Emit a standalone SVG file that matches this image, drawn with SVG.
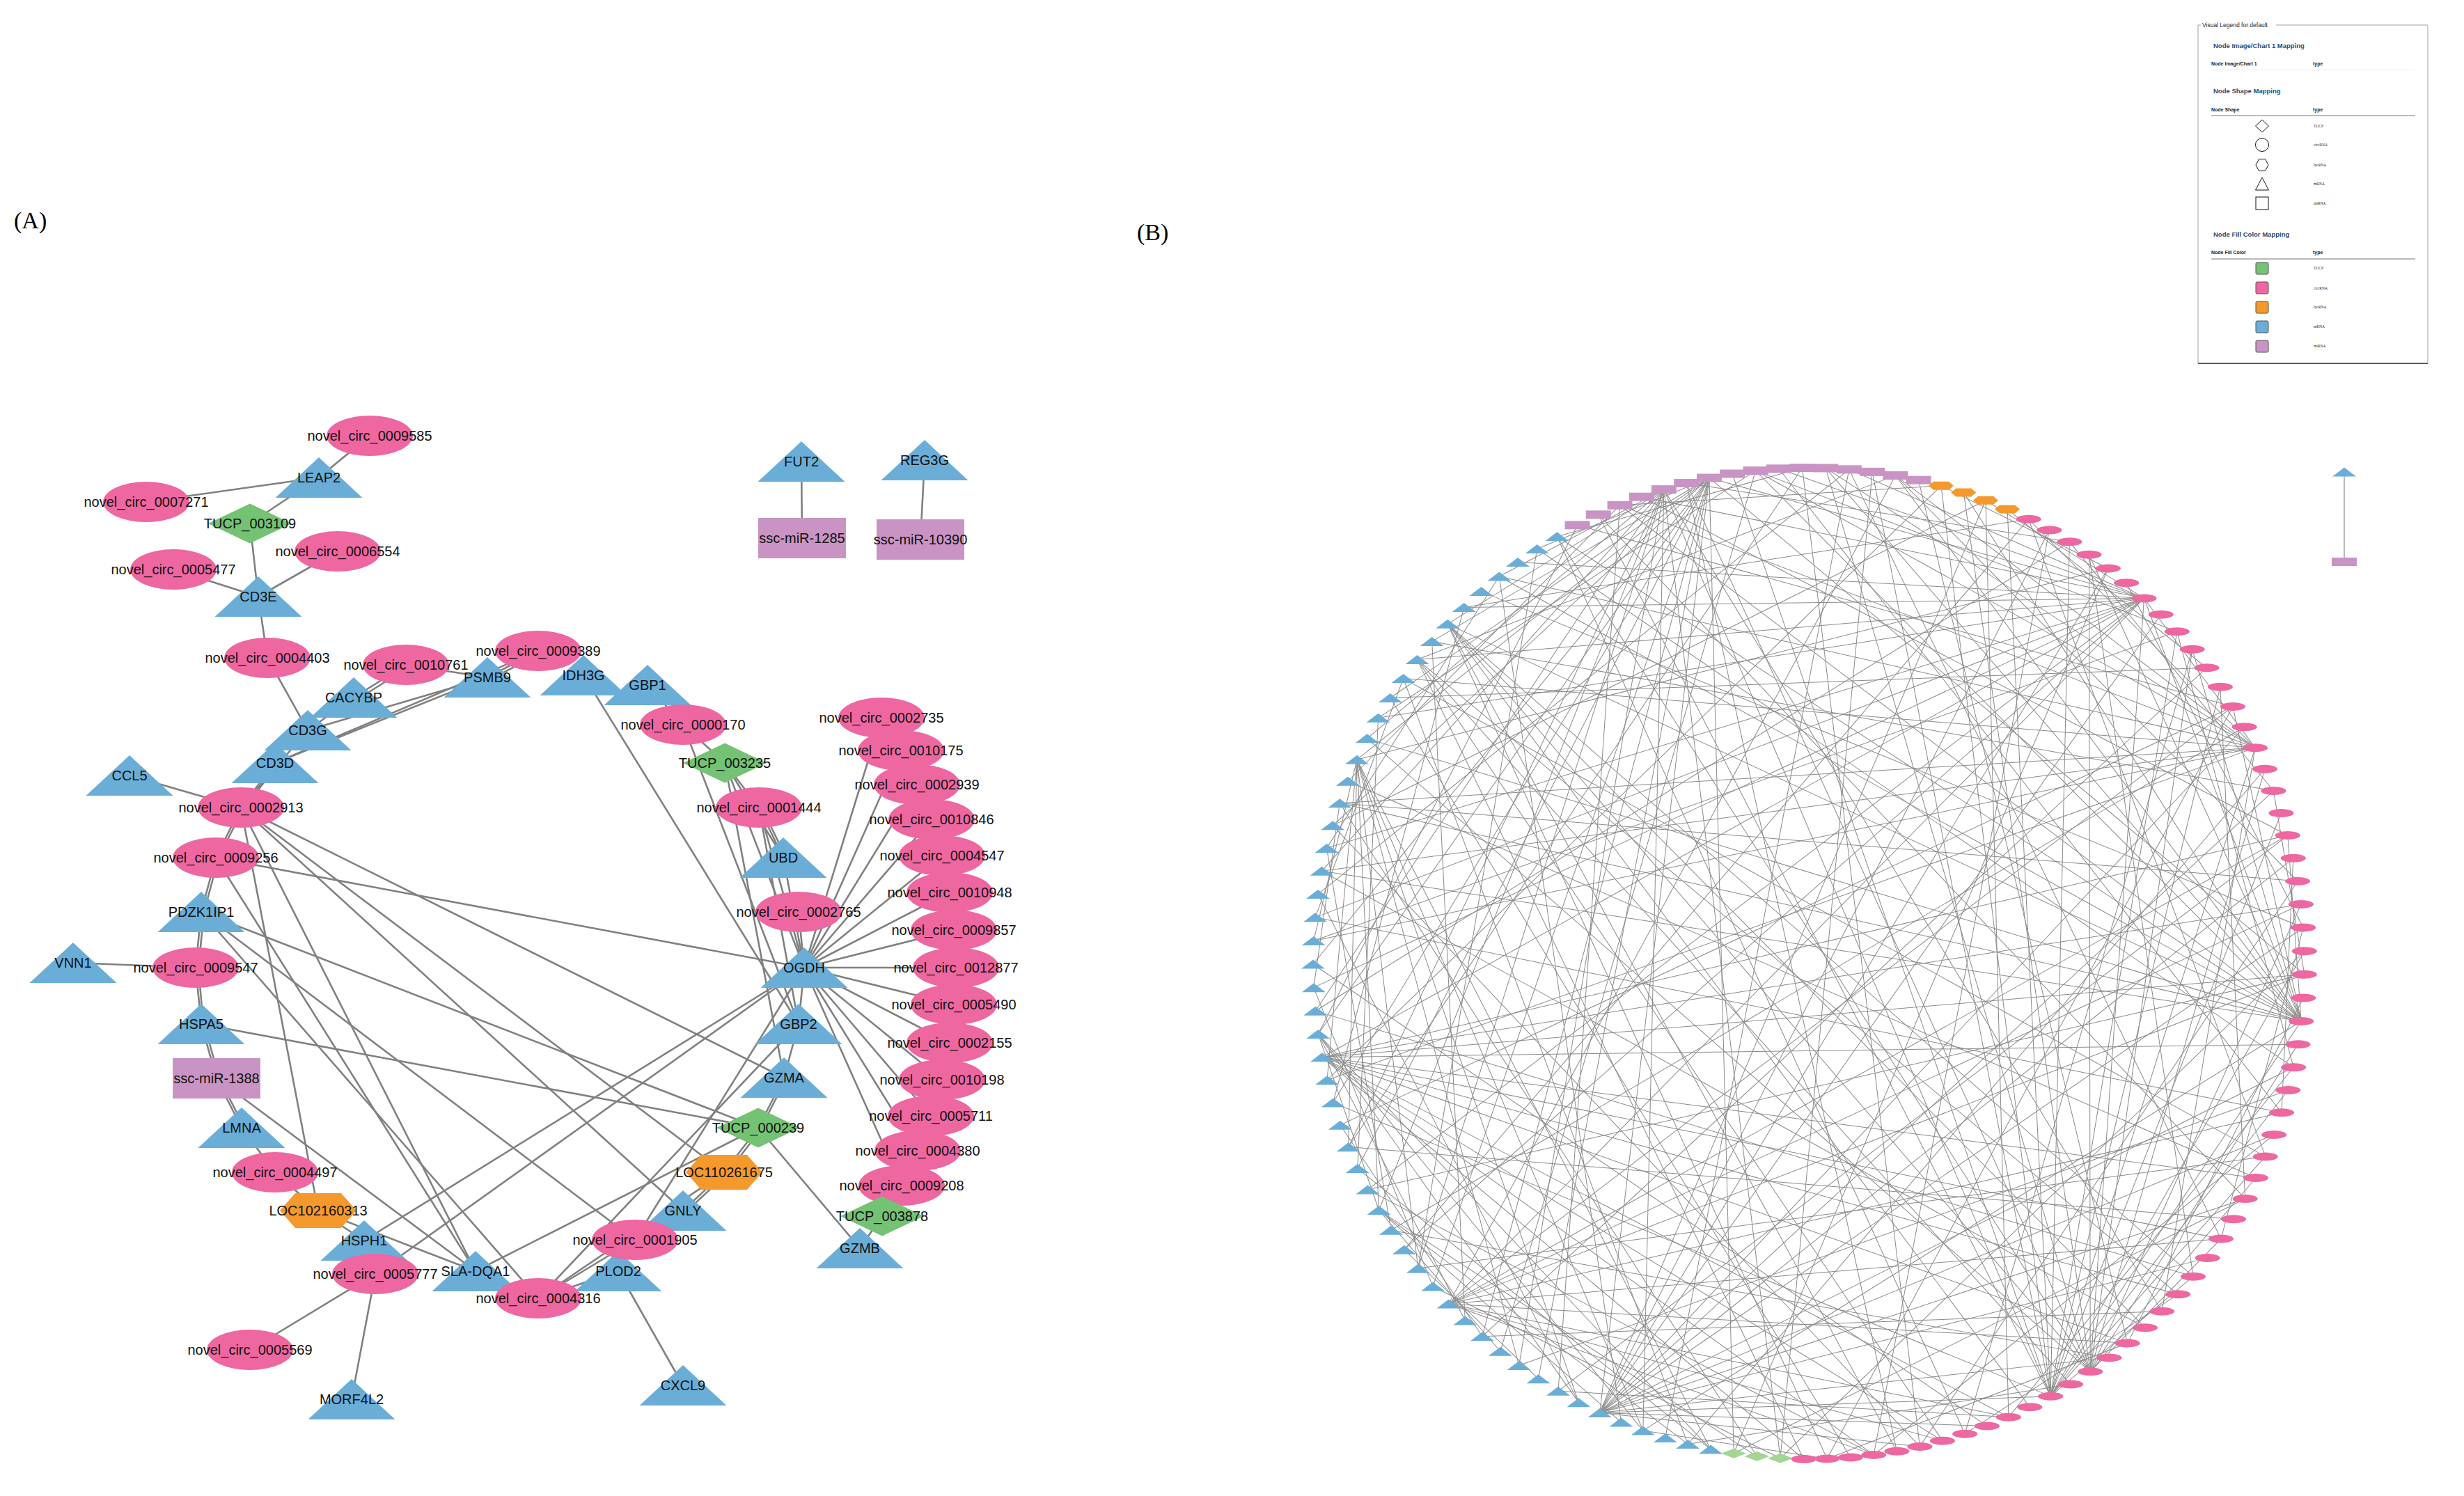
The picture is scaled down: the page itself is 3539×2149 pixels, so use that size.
<svg xmlns="http://www.w3.org/2000/svg" width="3539" height="2149" viewBox="0 0 3539 2149">
<style>
.t{font-family:"Liberation Sans",Arial,sans-serif;font-size:20px;text-anchor:middle;fill:#111}
.ea line{stroke:#808080;stroke-width:2.6}
.eb{stroke:#8a8a8a;stroke-width:1;fill:none}
.circ{fill:#EE67A0}
.mrna{fill:#6AAED8}
.tucp{fill:#74C274}
.tucpb{fill:#A3D695}
.lnc{fill:#F5992D}
.mir{fill:#C994C3}
.lg{font-family:"Liberation Sans",Arial,sans-serif}
.lh{font-family:"Liberation Sans",Arial,sans-serif;font-size:9.5px;font-weight:bold;fill:#1F4E79}
.lc{font-family:"Liberation Sans",Arial,sans-serif;font-size:7px;font-weight:bold;fill:#222}
.ls{font-family:"Liberation Serif",serif;font-size:5.5px;fill:#222}
.sh{fill:none;stroke:#111;stroke-width:1}
.sw{stroke:#555;stroke-width:1}
.pl{font-family:"Liberation Serif","Times New Roman",serif;font-size:34px;fill:#000}
</style>
<defs>
<ellipse id="E" rx="62" ry="29"/>
<polygon id="T" points="0,-29 62.5,29 -62.5,29"/>
<polygon id="D" points="0,-28.5 60,0 0,28.5 -60,0"/>
<polygon id="H" points="-55,0 -33,-25 33,-25 55,0 33,25 -33,25"/>
<rect id="R" x="-63" y="-29" width="126" height="58"/>
<polygon id="bT" points="0,-6.5 17,6.5 -17,6.5"/>
<ellipse id="bE" rx="18" ry="6"/>
<polygon id="bD" points="0,-7 18,0 0,7 -18,0"/>
<polygon id="bH" points="-18,0 -11,-6 11,-6 18,0 11,6 -11,6"/>
<rect id="bR" x="-18" y="-6" width="36" height="12"/>
<line id="c8" x1="712" y1="0" x2="661.8" y2="262.7"/>
<line id="c11" x1="712" y1="0" x2="618" y2="353.6"/>
<line id="c14" x1="712" y1="0" x2="561.9" y2="437.3"/>
<line id="c17" x1="712" y1="0" x2="494.5" y2="512.3"/>
<line id="c20" x1="712" y1="0" x2="417.1" y2="577"/>
<line id="c23" x1="712" y1="0" x2="331.5" y2="630.2"/>
<line id="c26" x1="712" y1="0" x2="239.1" y2="670.7"/>
<line id="c29" x1="712" y1="0" x2="141.9" y2="697.7"/>
<line id="c32" x1="712" y1="0" x2="42" y2="710.8"/>
<line id="c35" x1="712" y1="0" x2="-58.8" y2="709.6"/>
<line id="c38" x1="712" y1="0" x2="-158.4" y2="694.1"/>
<line id="c41" x1="712" y1="0" x2="-254.9" y2="664.8"/>
<line id="c44" x1="712" y1="0" x2="-346.3" y2="622.1"/>
<line id="c47" x1="712" y1="0" x2="-430.7" y2="567"/>
<line id="c50" x1="712" y1="0" x2="-506.5" y2="500.5"/>
<line id="c53" x1="712" y1="0" x2="-572" y2="423.9"/>
<line id="c56" x1="712" y1="0" x2="-626.2" y2="338.9"/>
<line id="c59" x1="712" y1="0" x2="-667.8" y2="247"/>
<line id="c62" x1="712" y1="0" x2="-696" y2="150.2"/>
<line id="c65" x1="712" y1="0" x2="-710.2" y2="50.4"/>
</defs>
<rect width="3539" height="2149" fill="#fff"/>
<text class="pl" x="20" y="328">(A)</text>
<text class="pl" x="1633" y="345">(B)</text>

<g id="edgesA" class="ea">
<line x1="458" y1="686" x2="531" y2="626"/>
<line x1="458" y1="686" x2="210" y2="721"/>
<line x1="458" y1="686" x2="359" y2="752"/>
<line x1="359" y1="752" x2="371" y2="857"/>
<line x1="371" y1="857" x2="249" y2="818"/>
<line x1="371" y1="857" x2="485" y2="792"/>
<line x1="371" y1="857" x2="384" y2="945"/>
<line x1="384" y1="945" x2="442" y2="1049"/>
<line x1="583" y1="955" x2="508" y2="1002"/>
<line x1="586" y1="959" x2="511" y2="1006"/>
<line x1="583" y1="955" x2="700" y2="973"/>
<line x1="700" y1="973" x2="442" y2="1049"/>
<line x1="700" y1="973" x2="395" y2="1096"/>
<line x1="773" y1="935" x2="700" y2="973"/>
<line x1="775" y1="939" x2="702" y2="977"/>
<line x1="773" y1="935" x2="395" y2="1096"/>
<line x1="508" y1="1002" x2="442" y2="1049"/>
<line x1="442" y1="1049" x2="346" y2="1160"/>
<line x1="395" y1="1096" x2="346" y2="1160"/>
<line x1="399" y1="1098" x2="350" y2="1162"/>
<line x1="186" y1="1114" x2="346" y2="1160"/>
<line x1="346" y1="1160" x2="310" y2="1232"/>
<line x1="350" y1="1160" x2="314" y2="1232"/>
<line x1="310" y1="1232" x2="289" y2="1310"/>
<line x1="314" y1="1232" x2="293" y2="1310"/>
<line x1="289" y1="1310" x2="281" y2="1390"/>
<line x1="293" y1="1310" x2="285" y2="1390"/>
<line x1="105" y1="1383" x2="281" y2="1390"/>
<line x1="281" y1="1390" x2="289" y2="1471"/>
<line x1="285" y1="1390" x2="292" y2="1471"/>
<line x1="289" y1="1471" x2="311" y2="1549"/>
<line x1="293" y1="1471" x2="315" y2="1549"/>
<line x1="311" y1="1549" x2="347" y2="1620"/>
<line x1="315" y1="1549" x2="351" y2="1620"/>
<line x1="347" y1="1620" x2="395" y2="1684"/>
<line x1="395" y1="1684" x2="457" y2="1739"/>
<line x1="457" y1="1739" x2="523" y2="1782"/>
<line x1="457" y1="1739" x2="683" y2="1826"/>
<line x1="523" y1="1782" x2="539" y2="1830"/>
<line x1="539" y1="1830" x2="359" y2="1939"/>
<line x1="539" y1="1830" x2="505" y2="2010"/>
<line x1="539" y1="1830" x2="1155" y2="1390"/>
<line x1="523" y1="1782" x2="1155" y2="1390"/>
<line x1="683" y1="1826" x2="1089" y2="1620"/>
<line x1="773" y1="1865" x2="888" y2="1826"/>
<line x1="773" y1="1865" x2="912" y2="1781"/>
<line x1="888" y1="1826" x2="981" y2="1990"/>
<line x1="888" y1="1826" x2="912" y2="1781"/>
<line x1="981" y1="1739" x2="1040" y2="1684"/>
<line x1="985" y1="1741" x2="1044" y2="1686"/>
<line x1="1040" y1="1684" x2="1089" y2="1620"/>
<line x1="1044" y1="1686" x2="1093" y2="1622"/>
<line x1="1089" y1="1620" x2="1126" y2="1548"/>
<line x1="1093" y1="1620" x2="1130" y2="1548"/>
<line x1="1089" y1="1620" x2="1235" y2="1793"/>
<line x1="1235" y1="1793" x2="1267" y2="1747"/>
<line x1="1126" y1="1548" x2="1147" y2="1471"/>
<line x1="1147" y1="1471" x2="1155" y2="1390"/>
<line x1="1155" y1="1390" x2="1147" y2="1310"/>
<line x1="1155" y1="1390" x2="1266" y2="1031"/>
<line x1="1155" y1="1390" x2="1294" y2="1078"/>
<line x1="1155" y1="1390" x2="1317" y2="1127"/>
<line x1="1155" y1="1390" x2="1338" y2="1177"/>
<line x1="1155" y1="1390" x2="1353" y2="1229"/>
<line x1="1155" y1="1390" x2="1364" y2="1282"/>
<line x1="1155" y1="1390" x2="1370" y2="1336"/>
<line x1="1155" y1="1390" x2="1373" y2="1390"/>
<line x1="1155" y1="1390" x2="1370" y2="1443"/>
<line x1="1155" y1="1390" x2="1364" y2="1498"/>
<line x1="1155" y1="1390" x2="1353" y2="1551"/>
<line x1="1155" y1="1390" x2="1337" y2="1603"/>
<line x1="1155" y1="1390" x2="1318" y2="1653"/>
<line x1="1155" y1="1390" x2="1295" y2="1703"/>
<line x1="838" y1="970" x2="1147" y2="1471"/>
<line x1="930" y1="984" x2="981" y2="1041"/>
<line x1="981" y1="1041" x2="1041" y2="1096"/>
<line x1="1041" y1="1096" x2="1090" y2="1160"/>
<line x1="1041" y1="1096" x2="1125" y2="1232"/>
<line x1="1090" y1="1160" x2="1125" y2="1232"/>
<line x1="1094" y1="1160" x2="1129" y2="1232"/>
<line x1="1125" y1="1232" x2="1155" y2="1390"/>
<line x1="981" y1="1041" x2="1147" y2="1471"/>
<line x1="1041" y1="1096" x2="1155" y2="1390"/>
<line x1="1041" y1="1096" x2="1126" y2="1548"/>
<line x1="1090" y1="1160" x2="1155" y2="1390"/>
<line x1="1090" y1="1160" x2="1147" y2="1471"/>
<line x1="310" y1="1232" x2="1155" y2="1390"/>
<line x1="346" y1="1160" x2="1126" y2="1548"/>
<line x1="346" y1="1160" x2="1040" y2="1684"/>
<line x1="346" y1="1160" x2="981" y2="1739"/>
<line x1="346" y1="1160" x2="683" y2="1826"/>
<line x1="346" y1="1160" x2="457" y2="1739"/>
<line x1="310" y1="1232" x2="683" y2="1826"/>
<line x1="289" y1="1310" x2="1089" y2="1620"/>
<line x1="289" y1="1471" x2="1089" y2="1620"/>
<line x1="289" y1="1310" x2="773" y2="1865"/>
<line x1="289" y1="1310" x2="912" y2="1781"/>
<line x1="1155" y1="1390" x2="912" y2="1781"/>
<line x1="1147" y1="1471" x2="773" y2="1865"/>
<line x1="773" y1="1865" x2="1040" y2="1684"/>
<line x1="311" y1="1549" x2="683" y2="1826"/>
<line x1="1151" y1="663" x2="1152" y2="773"/>
<line x1="1328" y1="661" x2="1322" y2="775"/>
</g>

<g id="nodesA">
<g id="n_LEAP2" transform="translate(458 686)"><use href="#T" class="mrna"/><text class="t" y="7">LEAP2</text></g>
<g id="n_0009585" transform="translate(531 626)"><use href="#E" class="circ"/><text class="t" y="7">novel_circ_0009585</text></g>
<g id="n_0007271" transform="translate(210 721)"><use href="#E" class="circ"/><text class="t" y="7">novel_circ_0007271</text></g>
<g id="n_TUCP_003109" transform="translate(359 752)"><use href="#D" class="tucp"/><text class="t" y="7">TUCP_003109</text></g>
<g id="n_0006554" transform="translate(485 792)"><use href="#E" class="circ"/><text class="t" y="7">novel_circ_0006554</text></g>
<g id="n_0005477" transform="translate(249 818)"><use href="#E" class="circ"/><text class="t" y="7">novel_circ_0005477</text></g>
<g id="n_CD3E" transform="translate(371 857)"><use href="#T" class="mrna"/><text class="t" y="7">CD3E</text></g>
<g id="n_0004403" transform="translate(384 945)"><use href="#E" class="circ"/><text class="t" y="7">novel_circ_0004403</text></g>
<g id="n_0010761" transform="translate(583 955)"><use href="#E" class="circ"/><text class="t" y="7">novel_circ_0010761</text></g>
<g id="n_0009389" transform="translate(773 935)"><use href="#E" class="circ"/><text class="t" y="7">novel_circ_0009389</text></g>
<g id="n_PSMB9" transform="translate(700 973)"><use href="#T" class="mrna"/><text class="t" y="7">PSMB9</text></g>
<g id="n_IDH3G" transform="translate(838 970)"><use href="#T" class="mrna"/><text class="t" y="7">IDH3G</text></g>
<g id="n_GBP1" transform="translate(930 984)"><use href="#T" class="mrna"/><text class="t" y="7">GBP1</text></g>
<g id="n_CACYBP" transform="translate(508 1002)"><use href="#T" class="mrna"/><text class="t" y="7">CACYBP</text></g>
<g id="n_CD3G" transform="translate(442 1049)"><use href="#T" class="mrna"/><text class="t" y="7">CD3G</text></g>
<g id="n_CD3D" transform="translate(395 1096)"><use href="#T" class="mrna"/><text class="t" y="7">CD3D</text></g>
<g id="n_CCL5" transform="translate(186 1114)"><use href="#T" class="mrna"/><text class="t" y="7">CCL5</text></g>
<g id="n_0002913" transform="translate(346 1160)"><use href="#E" class="circ"/><text class="t" y="7">novel_circ_0002913</text></g>
<g id="n_0009256" transform="translate(310 1232)"><use href="#E" class="circ"/><text class="t" y="7">novel_circ_0009256</text></g>
<g id="n_PDZK1IP1" transform="translate(289 1310)"><use href="#T" class="mrna"/><text class="t" y="7">PDZK1IP1</text></g>
<g id="n_VNN1" transform="translate(105 1383)"><use href="#T" class="mrna"/><text class="t" y="7">VNN1</text></g>
<g id="n_0009547" transform="translate(281 1390)"><use href="#E" class="circ"/><text class="t" y="7">novel_circ_0009547</text></g>
<g id="n_HSPA5" transform="translate(289 1471)"><use href="#T" class="mrna"/><text class="t" y="7">HSPA5</text></g>
<g id="n_miR1388" transform="translate(311 1549)"><use href="#R" class="mir"/><text class="t" y="7">ssc-miR-1388</text></g>
<g id="n_LMNA" transform="translate(347 1620)"><use href="#T" class="mrna"/><text class="t" y="7">LMNA</text></g>
<g id="n_0004497" transform="translate(395 1684)"><use href="#E" class="circ"/><text class="t" y="7">novel_circ_0004497</text></g>
<g id="n_LOC102160313" transform="translate(457 1739)"><use href="#H" class="lnc"/><text class="t" y="7">LOC102160313</text></g>
<g id="n_HSPH1" transform="translate(523 1782)"><use href="#T" class="mrna"/><text class="t" y="7">HSPH1</text></g>
<g id="n_0005777" transform="translate(539 1830)"><use href="#E" class="circ"/><text class="t" y="7">novel_circ_0005777</text></g>
<g id="n_SLA-DQA1" transform="translate(683 1826)"><use href="#T" class="mrna"/><text class="t" y="7">SLA-DQA1</text></g>
<g id="n_PLOD2" transform="translate(888 1826)"><use href="#T" class="mrna"/><text class="t" y="7">PLOD2</text></g>
<g id="n_0004316" transform="translate(773 1865)"><use href="#E" class="circ"/><text class="t" y="7">novel_circ_0004316</text></g>
<g id="n_GNLY" transform="translate(981 1739)"><use href="#T" class="mrna"/><text class="t" y="7">GNLY</text></g>
<g id="n_0001905" transform="translate(912 1781)"><use href="#E" class="circ"/><text class="t" y="7">novel_circ_0001905</text></g>
<g id="n_0005569" transform="translate(359 1939)"><use href="#E" class="circ"/><text class="t" y="7">novel_circ_0005569</text></g>
<g id="n_MORF4L2" transform="translate(505 2010)"><use href="#T" class="mrna"/><text class="t" y="7">MORF4L2</text></g>
<g id="n_CXCL9" transform="translate(981 1990)"><use href="#T" class="mrna"/><text class="t" y="7">CXCL9</text></g>
<g id="n_0000170" transform="translate(981 1041)"><use href="#E" class="circ"/><text class="t" y="7">novel_circ_0000170</text></g>
<g id="n_TUCP_003235" transform="translate(1041 1096)"><use href="#D" class="tucp"/><text class="t" y="7">TUCP_003235</text></g>
<g id="n_0001444" transform="translate(1090 1160)"><use href="#E" class="circ"/><text class="t" y="7">novel_circ_0001444</text></g>
<g id="n_UBD" transform="translate(1125 1232)"><use href="#T" class="mrna"/><text class="t" y="7">UBD</text></g>
<g id="n_0002765" transform="translate(1147 1310)"><use href="#E" class="circ"/><text class="t" y="7">novel_circ_0002765</text></g>
<g id="n_OGDH" transform="translate(1155 1390)"><use href="#T" class="mrna"/><text class="t" y="7">OGDH</text></g>
<g id="n_GBP2" transform="translate(1147 1471)"><use href="#T" class="mrna"/><text class="t" y="7">GBP2</text></g>
<g id="n_GZMA" transform="translate(1126 1548)"><use href="#T" class="mrna"/><text class="t" y="7">GZMA</text></g>
<g id="n_TUCP_000239" transform="translate(1089 1620)"><use href="#D" class="tucp"/><text class="t" y="7">TUCP_000239</text></g>
<g id="n_LOC110261675" transform="translate(1040 1684)"><use href="#H" class="lnc"/><text class="t" y="7">LOC110261675</text></g>
<g id="n_0002735" transform="translate(1266 1031)"><use href="#E" class="circ"/><text class="t" y="7">novel_circ_0002735</text></g>
<g id="n_0010175" transform="translate(1294 1078)"><use href="#E" class="circ"/><text class="t" y="7">novel_circ_0010175</text></g>
<g id="n_0002939" transform="translate(1317 1127)"><use href="#E" class="circ"/><text class="t" y="7">novel_circ_0002939</text></g>
<g id="n_0010846" transform="translate(1338 1177)"><use href="#E" class="circ"/><text class="t" y="7">novel_circ_0010846</text></g>
<g id="n_0004547" transform="translate(1353 1229)"><use href="#E" class="circ"/><text class="t" y="7">novel_circ_0004547</text></g>
<g id="n_0010948" transform="translate(1364 1282)"><use href="#E" class="circ"/><text class="t" y="7">novel_circ_0010948</text></g>
<g id="n_0009857" transform="translate(1370 1336)"><use href="#E" class="circ"/><text class="t" y="7">novel_circ_0009857</text></g>
<g id="n_0012877" transform="translate(1373 1390)"><use href="#E" class="circ"/><text class="t" y="7">novel_circ_0012877</text></g>
<g id="n_0005490" transform="translate(1370 1443)"><use href="#E" class="circ"/><text class="t" y="7">novel_circ_0005490</text></g>
<g id="n_0002155" transform="translate(1364 1498)"><use href="#E" class="circ"/><text class="t" y="7">novel_circ_0002155</text></g>
<g id="n_0010198" transform="translate(1353 1551)"><use href="#E" class="circ"/><text class="t" y="7">novel_circ_0010198</text></g>
<g id="n_0005711" transform="translate(1337 1603)"><use href="#E" class="circ"/><text class="t" y="7">novel_circ_0005711</text></g>
<g id="n_0004380" transform="translate(1318 1653)"><use href="#E" class="circ"/><text class="t" y="7">novel_circ_0004380</text></g>
<g id="n_0009208" transform="translate(1295 1703)"><use href="#E" class="circ"/><text class="t" y="7">novel_circ_0009208</text></g>
<g id="n_TUCP_003878" transform="translate(1267 1747)"><use href="#D" class="tucp"/><text class="t" y="7">TUCP_003878</text></g>
<g id="n_GZMB" transform="translate(1235 1793)"><use href="#T" class="mrna"/><text class="t" y="7">GZMB</text></g>
<g id="n_FUT2" transform="translate(1151 663)"><use href="#T" class="mrna"/><text class="t" y="7">FUT2</text></g>
<g id="n_miR1285" transform="translate(1152 773)"><use href="#R" class="mir"/><text class="t" y="7">ssc-miR-1285</text></g>
<g id="n_REG3G" transform="translate(1328 661)"><use href="#T" class="mrna"/><text class="t" y="7">REG3G</text></g>
<g id="n_miR10390" transform="translate(1322 775)"><use href="#R" class="mir"/><text class="t" y="7">ssc-miR-10390</text></g>
</g>

<g id="edgesB" class="eb" transform="translate(2598 1384)">
<use href="#c17" transform="rotate(93.3)"/><use href="#c59" transform="rotate(93.3)"/>
<use href="#c38" transform="rotate(96.01)"/><use href="#c20" transform="rotate(96.01)"/>
<use href="#c59" transform="rotate(98.71)"/>
<use href="#c20" transform="rotate(101.42)"/><use href="#c38" transform="rotate(101.42)"/><use href="#c26" transform="rotate(101.42)"/>
<use href="#c41" transform="rotate(104.13)"/><use href="#c17" transform="rotate(104.13)"/>
<use href="#c62" transform="rotate(106.83)"/>
<use href="#c23" transform="rotate(109.54)"/><use href="#c35" transform="rotate(109.54)"/><use href="#c53" transform="rotate(109.54)"/>
<use href="#c44" transform="rotate(112.25)"/><use href="#c14" transform="rotate(112.25)"/>
<use href="#c65" transform="rotate(114.95)"/><use href="#c53" transform="rotate(114.95)"/>
<use href="#c26" transform="rotate(117.66)"/><use href="#c32" transform="rotate(117.66)"/><use href="#c20" transform="rotate(117.66)"/>
<use href="#c47" transform="rotate(120.37)"/>
<use href="#c8" transform="rotate(123.07)"/><use href="#c50" transform="rotate(123.07)"/>
<use href="#c29" transform="rotate(125.78)"/><use href="#c47" transform="rotate(125.78)"/>
<use href="#c50" transform="rotate(128.49)"/><use href="#c8" transform="rotate(128.49)"/>
<use href="#c11" transform="rotate(131.2)"/><use href="#c47" transform="rotate(131.2)"/>
<use href="#c32" transform="rotate(133.9)"/><use href="#c14" transform="rotate(133.9)"/>
<use href="#c53" transform="rotate(136.61)"/><use href="#c65" transform="rotate(136.61)"/>
<use href="#c14" transform="rotate(139.32)"/><use href="#c44" transform="rotate(139.32)"/>
<use href="#c35" transform="rotate(142.02)"/><use href="#c23" transform="rotate(142.02)"/><use href="#c41" transform="rotate(142.02)"/>
<use href="#c56" transform="rotate(144.73)"/><use href="#c62" transform="rotate(144.73)"/>
<use href="#c17" transform="rotate(147.44)"/>
<use href="#c38" transform="rotate(150.14)"/><use href="#c20" transform="rotate(150.14)"/><use href="#c8" transform="rotate(150.14)"/>
<use href="#c59" transform="rotate(152.85)"/>
<use href="#c20" transform="rotate(155.56)"/><use href="#c38" transform="rotate(155.56)"/>
<use href="#c41" transform="rotate(158.26)"/><use href="#c17" transform="rotate(158.26)"/><use href="#c35" transform="rotate(158.26)"/>
<use href="#c62" transform="rotate(160.97)"/>
<use href="#c23" transform="rotate(163.68)"/><use href="#c35" transform="rotate(163.68)"/>
<use href="#c44" transform="rotate(166.38)"/><use href="#c14" transform="rotate(166.38)"/><use href="#c62" transform="rotate(166.38)"/>
<use href="#c65" transform="rotate(169.09)"/><use href="#c53" transform="rotate(169.09)"/>
<use href="#c26" transform="rotate(171.8)"/><use href="#c32" transform="rotate(171.8)"/>
<use href="#c47" transform="rotate(174.5)"/><use href="#c29" transform="rotate(174.5)"/>
<use href="#c8" transform="rotate(177.21)"/><use href="#c50" transform="rotate(177.21)"/>
<use href="#c29" transform="rotate(179.92)"/>
<use href="#c50" transform="rotate(182.62)"/><use href="#c8" transform="rotate(182.62)"/><use href="#c56" transform="rotate(182.62)"/>
<use href="#c11" transform="rotate(185.33)"/><use href="#c47" transform="rotate(185.33)"/>
<use href="#c32" transform="rotate(188.04)"/>
<use href="#c53" transform="rotate(190.75)"/><use href="#c65" transform="rotate(190.75)"/><use href="#c23" transform="rotate(190.75)"/>
<use href="#c14" transform="rotate(193.45)"/><use href="#c44" transform="rotate(193.45)"/>
<use href="#c35" transform="rotate(196.16)"/><use href="#c23" transform="rotate(196.16)"/>
<use href="#c56" transform="rotate(198.87)"/><use href="#c62" transform="rotate(198.87)"/><use href="#c50" transform="rotate(198.87)"/>
<use href="#c17" transform="rotate(201.57)"/>
<use href="#c38" transform="rotate(204.28)"/><use href="#c20" transform="rotate(204.28)"/>
<use href="#c59" transform="rotate(206.99)"/><use href="#c17" transform="rotate(206.99)"/>
<use href="#c20" transform="rotate(209.69)"/><use href="#c38" transform="rotate(209.69)"/>
<use href="#c41" transform="rotate(212.4)"/><use href="#c17" transform="rotate(212.4)"/>
<use href="#c62" transform="rotate(215.11)"/><use href="#c44" transform="rotate(215.11)"/>
<use href="#c23" transform="rotate(217.81)"/><use href="#c35" transform="rotate(217.81)"/>
<use href="#c44" transform="rotate(220.52)"/><use href="#c14" transform="rotate(220.52)"/>
<use href="#c65" transform="rotate(223.23)"/><use href="#c53" transform="rotate(223.23)"/><use href="#c11" transform="rotate(223.23)"/>
<use href="#c26" transform="rotate(225.93)"/><use href="#c32" transform="rotate(225.93)"/>
<use href="#c47" transform="rotate(228.64)"/>
<use href="#c8" transform="rotate(231.35)"/><use href="#c50" transform="rotate(231.35)"/><use href="#c38" transform="rotate(231.35)"/>
<use href="#c29" transform="rotate(234.05)"/>
<use href="#c50" transform="rotate(236.76)"/><use href="#c8" transform="rotate(236.76)"/>
<use href="#c11" transform="rotate(239.47)"/><use href="#c47" transform="rotate(239.47)"/><use href="#c65" transform="rotate(239.47)"/>
<use href="#c32" transform="rotate(242.17)"/>
<use href="#c53" transform="rotate(244.88)"/><use href="#c65" transform="rotate(244.88)"/>
<use href="#c14" transform="rotate(247.59)"/><use href="#c44" transform="rotate(247.59)"/><use href="#c32" transform="rotate(247.59)"/>
<use href="#c35" transform="rotate(250.29)"/><use href="#c23" transform="rotate(250.29)"/>
<use href="#c56" transform="rotate(253)"/><use href="#c62" transform="rotate(253)"/>
<use href="#c17" transform="rotate(255.71)"/><use href="#c59" transform="rotate(255.71)"/>
<use href="#c38" transform="rotate(258.41)"/><use href="#c20" transform="rotate(258.41)"/>
<use href="#c59" transform="rotate(261.12)"/>
<use href="#c20" transform="rotate(263.83)"/><use href="#c38" transform="rotate(263.83)"/><use href="#c26" transform="rotate(263.83)"/>
<use href="#c41" transform="rotate(266.54)"/><use href="#c17" transform="rotate(266.54)"/>
<use href="#c62" transform="rotate(269.24)"/>
<use href="#c23" transform="rotate(271.95)"/><use href="#c35" transform="rotate(271.95)"/><use href="#c53" transform="rotate(271.95)"/>
<use href="#c44" transform="rotate(274.66)"/><use href="#c14" transform="rotate(274.66)"/>
<use href="#c65" transform="rotate(277.36)"/><use href="#c53" transform="rotate(277.36)"/>
<use href="#c26" transform="rotate(280.07)"/><use href="#c32" transform="rotate(280.07)"/><use href="#c20" transform="rotate(280.07)"/>
<use href="#c47" transform="rotate(282.78)"/>
<use href="#c8" transform="rotate(285.48)"/><use href="#c50" transform="rotate(285.48)"/>
<use href="#c29" transform="rotate(288.19)"/><use href="#c47" transform="rotate(288.19)"/>
<use href="#c50" transform="rotate(290.9)"/><use href="#c8" transform="rotate(290.9)"/>
<use href="#c11" transform="rotate(293.6)"/><use href="#c47" transform="rotate(293.6)"/>
<use href="#c32" transform="rotate(296.31)"/><use href="#c14" transform="rotate(296.31)"/>
<use href="#c53" transform="rotate(299.02)"/><use href="#c65" transform="rotate(299.02)"/>
<use href="#c14" transform="rotate(301.72)"/><use href="#c44" transform="rotate(301.72)"/>
<use href="#c35" transform="rotate(304.43)"/><use href="#c23" transform="rotate(304.43)"/><use href="#c41" transform="rotate(304.43)"/>
<use href="#c56" transform="rotate(307.14)"/><use href="#c62" transform="rotate(307.14)"/>
<use href="#c17" transform="rotate(309.84)"/>
<use href="#c38" transform="rotate(312.55)"/><use href="#c20" transform="rotate(312.55)"/><use href="#c8" transform="rotate(312.55)"/>
<use href="#c59" transform="rotate(315.26)"/>
<use href="#c20" transform="rotate(317.96)"/><use href="#c38" transform="rotate(317.96)"/>
<use href="#c41" transform="rotate(320.67)"/><use href="#c17" transform="rotate(320.67)"/><use href="#c35" transform="rotate(320.67)"/>
<use href="#c62" transform="rotate(323.38)"/>
<use href="#c23" transform="rotate(326.09)"/><use href="#c35" transform="rotate(326.09)"/>
<use href="#c44" transform="rotate(328.79)"/><use href="#c14" transform="rotate(328.79)"/><use href="#c62" transform="rotate(328.79)"/>
<use href="#c65" transform="rotate(331.5)"/><use href="#c53" transform="rotate(331.5)"/>
<use href="#c26" transform="rotate(334.21)"/><use href="#c32" transform="rotate(334.21)"/>
<use href="#c47" transform="rotate(336.91)"/><use href="#c29" transform="rotate(336.91)"/>
<use href="#c8" transform="rotate(339.62)"/><use href="#c50" transform="rotate(339.62)"/>
<use href="#c29" transform="rotate(342.33)"/>
<use href="#c50" transform="rotate(345.03)"/><use href="#c8" transform="rotate(345.03)"/><use href="#c56" transform="rotate(345.03)"/>
<use href="#c11" transform="rotate(347.74)"/><use href="#c47" transform="rotate(347.74)"/>
<use href="#c32" transform="rotate(350.45)"/>
<use href="#c53" transform="rotate(353.15)"/><use href="#c65" transform="rotate(353.15)"/><use href="#c23" transform="rotate(353.15)"/>
<use href="#c14" transform="rotate(355.86)"/><use href="#c44" transform="rotate(355.86)"/>
<use href="#c35" transform="rotate(358.57)"/><use href="#c23" transform="rotate(358.57)"/>
<use href="#c56" transform="rotate(361.27)"/><use href="#c62" transform="rotate(361.27)"/><use href="#c50" transform="rotate(361.27)"/>
<use href="#c17" transform="rotate(363.98)"/>
<use href="#c38" transform="rotate(366.69)"/><use href="#c20" transform="rotate(366.69)"/>
<use href="#c59" transform="rotate(369.39)"/><use href="#c17" transform="rotate(369.39)"/>
<use href="#c20" transform="rotate(372.1)"/><use href="#c38" transform="rotate(372.1)"/>
<use href="#c41" transform="rotate(374.81)"/><use href="#c17" transform="rotate(374.81)"/>
<use href="#c62" transform="rotate(377.51)"/><use href="#c44" transform="rotate(377.51)"/>
<use href="#c23" transform="rotate(380.22)"/><use href="#c35" transform="rotate(380.22)"/>
<use href="#c44" transform="rotate(382.93)"/><use href="#c14" transform="rotate(382.93)"/>
<use href="#c65" transform="rotate(385.63)"/><use href="#c53" transform="rotate(385.63)"/><use href="#c11" transform="rotate(385.63)"/>
<use href="#c26" transform="rotate(388.34)"/><use href="#c32" transform="rotate(388.34)"/>
<use href="#c47" transform="rotate(391.05)"/>
<use href="#c8" transform="rotate(393.75)"/><use href="#c50" transform="rotate(393.75)"/><use href="#c38" transform="rotate(393.75)"/>
<use href="#c29" transform="rotate(396.46)"/>
<use href="#c50" transform="rotate(399.17)"/><use href="#c8" transform="rotate(399.17)"/>
<use href="#c11" transform="rotate(401.88)"/><use href="#c47" transform="rotate(401.88)"/><use href="#c65" transform="rotate(401.88)"/>
<use href="#c32" transform="rotate(404.58)"/>
<use href="#c53" transform="rotate(407.29)"/><use href="#c65" transform="rotate(407.29)"/>
<use href="#c14" transform="rotate(410)"/><use href="#c44" transform="rotate(410)"/><use href="#c32" transform="rotate(410)"/>
<use href="#c35" transform="rotate(412.7)"/><use href="#c23" transform="rotate(412.7)"/>
<use href="#c56" transform="rotate(415.41)"/><use href="#c62" transform="rotate(415.41)"/>
<use href="#c17" transform="rotate(418.12)"/><use href="#c59" transform="rotate(418.12)"/>
<use href="#c38" transform="rotate(420.82)"/><use href="#c20" transform="rotate(420.82)"/>
<use href="#c59" transform="rotate(423.53)"/>
<use href="#c20" transform="rotate(426.24)"/><use href="#c38" transform="rotate(426.24)"/><use href="#c26" transform="rotate(426.24)"/>
<use href="#c41" transform="rotate(428.94)"/><use href="#c17" transform="rotate(428.94)"/>
<use href="#c62" transform="rotate(431.65)"/>
<use href="#c23" transform="rotate(434.36)"/><use href="#c35" transform="rotate(434.36)"/><use href="#c53" transform="rotate(434.36)"/>
<use href="#c44" transform="rotate(437.06)"/><use href="#c14" transform="rotate(437.06)"/>
<use href="#c65" transform="rotate(439.77)"/><use href="#c53" transform="rotate(439.77)"/>
<use href="#c26" transform="rotate(442.48)"/><use href="#c32" transform="rotate(442.48)"/><use href="#c20" transform="rotate(442.48)"/>
<use href="#c47" transform="rotate(445.18)"/>
<use href="#c8" transform="rotate(447.89)"/><use href="#c50" transform="rotate(447.89)"/>
<use href="#c29" transform="rotate(450.6)"/><use href="#c47" transform="rotate(450.6)"/>
</g>
<line id="edgeB_iso" x1="3367" y1="678" x2="3367" y2="807" stroke="#8a8a8a" stroke-width="1.2"/>

<g id="nodesB" transform="translate(2598 1384)">
<g id="b0" transform="rotate(93.3) translate(712) rotate(-93.3)"><use href="#bD" class="tucpb"/></g>
<g id="b1" transform="rotate(96.01) translate(712) rotate(-96.01)"><use href="#bD" class="tucpb"/></g>
<g id="b2" transform="rotate(98.71) translate(712) rotate(-98.71)"><use href="#bD" class="tucpb"/></g>
<g id="b3" transform="rotate(101.42) translate(712) rotate(-101.42)"><use href="#bT" class="mrna"/></g>
<g id="b4" transform="rotate(104.13) translate(712) rotate(-104.13)"><use href="#bT" class="mrna"/></g>
<g id="b5" transform="rotate(106.83) translate(712) rotate(-106.83)"><use href="#bT" class="mrna"/></g>
<g id="b6" transform="rotate(109.54) translate(712) rotate(-109.54)"><use href="#bT" class="mrna"/></g>
<g id="b7" transform="rotate(112.25) translate(712) rotate(-112.25)"><use href="#bT" class="mrna"/></g>
<g id="b8" transform="rotate(114.95) translate(712) rotate(-114.95)"><use href="#bT" class="mrna"/></g>
<g id="b9" transform="rotate(117.66) translate(712) rotate(-117.66)"><use href="#bT" class="mrna"/></g>
<g id="b10" transform="rotate(120.37) translate(712) rotate(-120.37)"><use href="#bT" class="mrna"/></g>
<g id="b11" transform="rotate(123.07) translate(712) rotate(-123.07)"><use href="#bT" class="mrna"/></g>
<g id="b12" transform="rotate(125.78) translate(712) rotate(-125.78)"><use href="#bT" class="mrna"/></g>
<g id="b13" transform="rotate(128.49) translate(712) rotate(-128.49)"><use href="#bT" class="mrna"/></g>
<g id="b14" transform="rotate(131.2) translate(712) rotate(-131.2)"><use href="#bT" class="mrna"/></g>
<g id="b15" transform="rotate(133.9) translate(712) rotate(-133.9)"><use href="#bT" class="mrna"/></g>
<g id="b16" transform="rotate(136.61) translate(712) rotate(-136.61)"><use href="#bT" class="mrna"/></g>
<g id="b17" transform="rotate(139.32) translate(712) rotate(-139.32)"><use href="#bT" class="mrna"/></g>
<g id="b18" transform="rotate(142.02) translate(712) rotate(-142.02)"><use href="#bT" class="mrna"/></g>
<g id="b19" transform="rotate(144.73) translate(712) rotate(-144.73)"><use href="#bT" class="mrna"/></g>
<g id="b20" transform="rotate(147.44) translate(712) rotate(-147.44)"><use href="#bT" class="mrna"/></g>
<g id="b21" transform="rotate(150.14) translate(712) rotate(-150.14)"><use href="#bT" class="mrna"/></g>
<g id="b22" transform="rotate(152.85) translate(712) rotate(-152.85)"><use href="#bT" class="mrna"/></g>
<g id="b23" transform="rotate(155.56) translate(712) rotate(-155.56)"><use href="#bT" class="mrna"/></g>
<g id="b24" transform="rotate(158.26) translate(712) rotate(-158.26)"><use href="#bT" class="mrna"/></g>
<g id="b25" transform="rotate(160.97) translate(712) rotate(-160.97)"><use href="#bT" class="mrna"/></g>
<g id="b26" transform="rotate(163.68) translate(712) rotate(-163.68)"><use href="#bT" class="mrna"/></g>
<g id="b27" transform="rotate(166.38) translate(712) rotate(-166.38)"><use href="#bT" class="mrna"/></g>
<g id="b28" transform="rotate(169.09) translate(712) rotate(-169.09)"><use href="#bT" class="mrna"/></g>
<g id="b29" transform="rotate(171.8) translate(712) rotate(-171.8)"><use href="#bT" class="mrna"/></g>
<g id="b30" transform="rotate(174.5) translate(712) rotate(-174.5)"><use href="#bT" class="mrna"/></g>
<g id="b31" transform="rotate(177.21) translate(712) rotate(-177.21)"><use href="#bT" class="mrna"/></g>
<g id="b32" transform="rotate(179.92) translate(712) rotate(-179.92)"><use href="#bT" class="mrna"/></g>
<g id="b33" transform="rotate(182.62) translate(712) rotate(-182.62)"><use href="#bT" class="mrna"/></g>
<g id="b34" transform="rotate(185.33) translate(712) rotate(-185.33)"><use href="#bT" class="mrna"/></g>
<g id="b35" transform="rotate(188.04) translate(712) rotate(-188.04)"><use href="#bT" class="mrna"/></g>
<g id="b36" transform="rotate(190.75) translate(712) rotate(-190.75)"><use href="#bT" class="mrna"/></g>
<g id="b37" transform="rotate(193.45) translate(712) rotate(-193.45)"><use href="#bT" class="mrna"/></g>
<g id="b38" transform="rotate(196.16) translate(712) rotate(-196.16)"><use href="#bT" class="mrna"/></g>
<g id="b39" transform="rotate(198.87) translate(712) rotate(-198.87)"><use href="#bT" class="mrna"/></g>
<g id="b40" transform="rotate(201.57) translate(712) rotate(-201.57)"><use href="#bT" class="mrna"/></g>
<g id="b41" transform="rotate(204.28) translate(712) rotate(-204.28)"><use href="#bT" class="mrna"/></g>
<g id="b42" transform="rotate(206.99) translate(712) rotate(-206.99)"><use href="#bT" class="mrna"/></g>
<g id="b43" transform="rotate(209.69) translate(712) rotate(-209.69)"><use href="#bT" class="mrna"/></g>
<g id="b44" transform="rotate(212.4) translate(712) rotate(-212.4)"><use href="#bT" class="mrna"/></g>
<g id="b45" transform="rotate(215.11) translate(712) rotate(-215.11)"><use href="#bT" class="mrna"/></g>
<g id="b46" transform="rotate(217.81) translate(712) rotate(-217.81)"><use href="#bT" class="mrna"/></g>
<g id="b47" transform="rotate(220.52) translate(712) rotate(-220.52)"><use href="#bT" class="mrna"/></g>
<g id="b48" transform="rotate(223.23) translate(712) rotate(-223.23)"><use href="#bT" class="mrna"/></g>
<g id="b49" transform="rotate(225.93) translate(712) rotate(-225.93)"><use href="#bT" class="mrna"/></g>
<g id="b50" transform="rotate(228.64) translate(712) rotate(-228.64)"><use href="#bT" class="mrna"/></g>
<g id="b51" transform="rotate(231.35) translate(712) rotate(-231.35)"><use href="#bT" class="mrna"/></g>
<g id="b52" transform="rotate(234.05) translate(712) rotate(-234.05)"><use href="#bT" class="mrna"/></g>
<g id="b53" transform="rotate(236.76) translate(712) rotate(-236.76)"><use href="#bT" class="mrna"/></g>
<g id="b54" transform="rotate(239.47) translate(712) rotate(-239.47)"><use href="#bT" class="mrna"/></g>
<g id="b55" transform="rotate(242.17) translate(712) rotate(-242.17)"><use href="#bR" class="mir"/></g>
<g id="b56" transform="rotate(244.88) translate(712) rotate(-244.88)"><use href="#bR" class="mir"/></g>
<g id="b57" transform="rotate(247.59) translate(712) rotate(-247.59)"><use href="#bR" class="mir"/></g>
<g id="b58" transform="rotate(250.29) translate(712) rotate(-250.29)"><use href="#bR" class="mir"/></g>
<g id="b59" transform="rotate(253) translate(712) rotate(-253)"><use href="#bR" class="mir"/></g>
<g id="b60" transform="rotate(255.71) translate(712) rotate(-255.71)"><use href="#bR" class="mir"/></g>
<g id="b61" transform="rotate(258.41) translate(712) rotate(-258.41)"><use href="#bR" class="mir"/></g>
<g id="b62" transform="rotate(261.12) translate(712) rotate(-261.12)"><use href="#bR" class="mir"/></g>
<g id="b63" transform="rotate(263.83) translate(712) rotate(-263.83)"><use href="#bR" class="mir"/></g>
<g id="b64" transform="rotate(266.54) translate(712) rotate(-266.54)"><use href="#bR" class="mir"/></g>
<g id="b65" transform="rotate(269.24) translate(712) rotate(-269.24)"><use href="#bR" class="mir"/></g>
<g id="b66" transform="rotate(271.95) translate(712) rotate(-271.95)"><use href="#bR" class="mir"/></g>
<g id="b67" transform="rotate(274.66) translate(712) rotate(-274.66)"><use href="#bR" class="mir"/></g>
<g id="b68" transform="rotate(277.36) translate(712) rotate(-277.36)"><use href="#bR" class="mir"/></g>
<g id="b69" transform="rotate(280.07) translate(712) rotate(-280.07)"><use href="#bR" class="mir"/></g>
<g id="b70" transform="rotate(282.78) translate(712) rotate(-282.78)"><use href="#bR" class="mir"/></g>
<g id="b71" transform="rotate(285.48) translate(712) rotate(-285.48)"><use href="#bH" class="lnc"/></g>
<g id="b72" transform="rotate(288.19) translate(712) rotate(-288.19)"><use href="#bH" class="lnc"/></g>
<g id="b73" transform="rotate(290.9) translate(712) rotate(-290.9)"><use href="#bH" class="lnc"/></g>
<g id="b74" transform="rotate(293.6) translate(712) rotate(-293.6)"><use href="#bH" class="lnc"/></g>
<g id="b75" transform="rotate(296.31) translate(712) rotate(-296.31)"><use href="#bE" class="circ"/></g>
<g id="b76" transform="rotate(299.02) translate(712) rotate(-299.02)"><use href="#bE" class="circ"/></g>
<g id="b77" transform="rotate(301.72) translate(712) rotate(-301.72)"><use href="#bE" class="circ"/></g>
<g id="b78" transform="rotate(304.43) translate(712) rotate(-304.43)"><use href="#bE" class="circ"/></g>
<g id="b79" transform="rotate(307.14) translate(712) rotate(-307.14)"><use href="#bE" class="circ"/></g>
<g id="b80" transform="rotate(309.84) translate(712) rotate(-309.84)"><use href="#bE" class="circ"/></g>
<g id="b81" transform="rotate(312.55) translate(712) rotate(-312.55)"><use href="#bE" class="circ"/></g>
<g id="b82" transform="rotate(315.26) translate(712) rotate(-315.26)"><use href="#bE" class="circ"/></g>
<g id="b83" transform="rotate(317.96) translate(712) rotate(-317.96)"><use href="#bE" class="circ"/></g>
<g id="b84" transform="rotate(320.67) translate(712) rotate(-320.67)"><use href="#bE" class="circ"/></g>
<g id="b85" transform="rotate(323.38) translate(712) rotate(-323.38)"><use href="#bE" class="circ"/></g>
<g id="b86" transform="rotate(326.09) translate(712) rotate(-326.09)"><use href="#bE" class="circ"/></g>
<g id="b87" transform="rotate(328.79) translate(712) rotate(-328.79)"><use href="#bE" class="circ"/></g>
<g id="b88" transform="rotate(331.5) translate(712) rotate(-331.5)"><use href="#bE" class="circ"/></g>
<g id="b89" transform="rotate(334.21) translate(712) rotate(-334.21)"><use href="#bE" class="circ"/></g>
<g id="b90" transform="rotate(336.91) translate(712) rotate(-336.91)"><use href="#bE" class="circ"/></g>
<g id="b91" transform="rotate(339.62) translate(712) rotate(-339.62)"><use href="#bE" class="circ"/></g>
<g id="b92" transform="rotate(342.33) translate(712) rotate(-342.33)"><use href="#bE" class="circ"/></g>
<g id="b93" transform="rotate(345.03) translate(712) rotate(-345.03)"><use href="#bE" class="circ"/></g>
<g id="b94" transform="rotate(347.74) translate(712) rotate(-347.74)"><use href="#bE" class="circ"/></g>
<g id="b95" transform="rotate(350.45) translate(712) rotate(-350.45)"><use href="#bE" class="circ"/></g>
<g id="b96" transform="rotate(353.15) translate(712) rotate(-353.15)"><use href="#bE" class="circ"/></g>
<g id="b97" transform="rotate(355.86) translate(712) rotate(-355.86)"><use href="#bE" class="circ"/></g>
<g id="b98" transform="rotate(358.57) translate(712) rotate(-358.57)"><use href="#bE" class="circ"/></g>
<g id="b99" transform="rotate(361.27) translate(712) rotate(-361.27)"><use href="#bE" class="circ"/></g>
<g id="b100" transform="rotate(363.98) translate(712) rotate(-363.98)"><use href="#bE" class="circ"/></g>
<g id="b101" transform="rotate(366.69) translate(712) rotate(-366.69)"><use href="#bE" class="circ"/></g>
<g id="b102" transform="rotate(369.39) translate(712) rotate(-369.39)"><use href="#bE" class="circ"/></g>
<g id="b103" transform="rotate(372.1) translate(712) rotate(-372.1)"><use href="#bE" class="circ"/></g>
<g id="b104" transform="rotate(374.81) translate(712) rotate(-374.81)"><use href="#bE" class="circ"/></g>
<g id="b105" transform="rotate(377.51) translate(712) rotate(-377.51)"><use href="#bE" class="circ"/></g>
<g id="b106" transform="rotate(380.22) translate(712) rotate(-380.22)"><use href="#bE" class="circ"/></g>
<g id="b107" transform="rotate(382.93) translate(712) rotate(-382.93)"><use href="#bE" class="circ"/></g>
<g id="b108" transform="rotate(385.63) translate(712) rotate(-385.63)"><use href="#bE" class="circ"/></g>
<g id="b109" transform="rotate(388.34) translate(712) rotate(-388.34)"><use href="#bE" class="circ"/></g>
<g id="b110" transform="rotate(391.05) translate(712) rotate(-391.05)"><use href="#bE" class="circ"/></g>
<g id="b111" transform="rotate(393.75) translate(712) rotate(-393.75)"><use href="#bE" class="circ"/></g>
<g id="b112" transform="rotate(396.46) translate(712) rotate(-396.46)"><use href="#bE" class="circ"/></g>
<g id="b113" transform="rotate(399.17) translate(712) rotate(-399.17)"><use href="#bE" class="circ"/></g>
<g id="b114" transform="rotate(401.88) translate(712) rotate(-401.88)"><use href="#bE" class="circ"/></g>
<g id="b115" transform="rotate(404.58) translate(712) rotate(-404.58)"><use href="#bE" class="circ"/></g>
<g id="b116" transform="rotate(407.29) translate(712) rotate(-407.29)"><use href="#bE" class="circ"/></g>
<g id="b117" transform="rotate(410) translate(712) rotate(-410)"><use href="#bE" class="circ"/></g>
<g id="b118" transform="rotate(412.7) translate(712) rotate(-412.7)"><use href="#bE" class="circ"/></g>
<g id="b119" transform="rotate(415.41) translate(712) rotate(-415.41)"><use href="#bE" class="circ"/></g>
<g id="b120" transform="rotate(418.12) translate(712) rotate(-418.12)"><use href="#bE" class="circ"/></g>
<g id="b121" transform="rotate(420.82) translate(712) rotate(-420.82)"><use href="#bE" class="circ"/></g>
<g id="b122" transform="rotate(423.53) translate(712) rotate(-423.53)"><use href="#bE" class="circ"/></g>
<g id="b123" transform="rotate(426.24) translate(712) rotate(-426.24)"><use href="#bE" class="circ"/></g>
<g id="b124" transform="rotate(428.94) translate(712) rotate(-428.94)"><use href="#bE" class="circ"/></g>
<g id="b125" transform="rotate(431.65) translate(712) rotate(-431.65)"><use href="#bE" class="circ"/></g>
<g id="b126" transform="rotate(434.36) translate(712) rotate(-434.36)"><use href="#bE" class="circ"/></g>
<g id="b127" transform="rotate(437.06) translate(712) rotate(-437.06)"><use href="#bE" class="circ"/></g>
<g id="b128" transform="rotate(439.77) translate(712) rotate(-439.77)"><use href="#bE" class="circ"/></g>
<g id="b129" transform="rotate(442.48) translate(712) rotate(-442.48)"><use href="#bE" class="circ"/></g>
<g id="b130" transform="rotate(445.18) translate(712) rotate(-445.18)"><use href="#bE" class="circ"/></g>
<g id="b131" transform="rotate(447.89) translate(712) rotate(-447.89)"><use href="#bE" class="circ"/></g>
<g id="b132" transform="rotate(450.6) translate(712) rotate(-450.6)"><use href="#bE" class="circ"/></g>
</g>
<g id="b_iso_tri" transform="translate(3367 678)"><use href="#bT" class="mrna"/></g>
<g id="b_iso_mir" transform="translate(3367 807)"><use href="#bR" class="mir"/></g>

<g id="legend">
<rect x="3157" y="36" width="330" height="486" fill="#fff" stroke="#a0a0a0" stroke-width="1"/>
<line x1="3157" y1="522" x2="3487" y2="522" stroke="#333" stroke-width="1.5"/>
<rect x="3161" y="31" width="108" height="10" fill="#fff"/>
<text class="lg" x="3163" y="39" font-size="8.5" fill="#222">Visual Legend for default</text>
<text class="lh" x="3179" y="69">Node Image/Chart 1 Mapping</text>
<text class="lc" x="3176" y="94">Node Image/Chart 1</text>
<text class="lc" x="3322" y="94">type</text>
<line x1="3176" y1="100" x2="3469" y2="100" stroke="#eee" stroke-width="1"/>
<text class="lh" x="3179" y="134">Node Shape Mapping</text>
<text class="lc" x="3176" y="160">Node Shape</text>
<text class="lc" x="3322" y="160">type</text>
<line x1="3176" y1="166" x2="3469" y2="166" stroke="#777" stroke-width="1"/>
<polygon class="sh" points="3249,172 3258.5,181 3249,190 3239.5,181"/>
<circle class="sh" cx="3249" cy="208" r="9.5"/>
<polygon class="sh" points="3240,237 3244.5,228.5 3253.5,228.5 3258,237 3253.5,245.5 3244.5,245.5"/>
<polygon class="sh" points="3249,255 3258.5,273 3239.5,273"/>
<rect class="sh" x="3240" y="283" width="18" height="18"/>
<text class="ls" x="3323" y="183">TUCP</text>
<text class="ls" x="3323" y="210">circRNA</text>
<text class="ls" x="3323" y="239">lncRNA</text>
<text class="ls" x="3323" y="266">mRNA</text>
<text class="ls" x="3323" y="294">miRNA</text>
<text class="lh" x="3179" y="340">Node Fill Color Mapping</text>
<text class="lc" x="3176" y="365">Node Fill Color</text>
<text class="lc" x="3322" y="365">type</text>
<line x1="3176" y1="372" x2="3469" y2="372" stroke="#777" stroke-width="1"/>
<rect class="sw tucp" x="3240" y="377" width="18" height="17" rx="2"/>
<rect class="sw circ" x="3240" y="405" width="18" height="17" rx="2"/>
<rect class="sw lnc" x="3240" y="433" width="18" height="17" rx="2"/>
<rect class="sw mrna" x="3240" y="461" width="18" height="17" rx="2"/>
<rect class="sw mir" x="3240" y="489" width="18" height="17" rx="2"/>
<text class="ls" x="3323" y="387">TUCP</text>
<text class="ls" x="3323" y="416">circRNA</text>
<text class="ls" x="3323" y="443">lncRNA</text>
<text class="ls" x="3323" y="471">mRNA</text>
<text class="ls" x="3323" y="499">miRNA</text>
</g>
</svg>
